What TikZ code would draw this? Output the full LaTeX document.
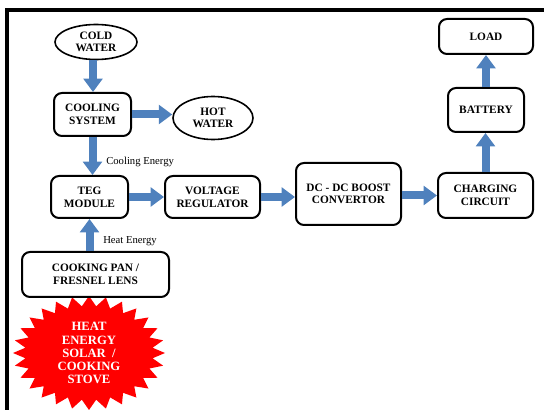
\documentclass[tikz,border=0pt]{standalone}
\usepackage{fontspec}
\setmainfont{Liberation Serif}
\usetikzlibrary{arrows.meta,shapes.geometric}

\definecolor{flowblue}{RGB}{79,129,189}

\tikzset{
  block/.style={draw, line width=1.5pt, rounded corners=6pt, align=center,
    inner sep=0pt, font=\bfseries\fontsize{8.5}{9.5}\selectfont},
  blob/.style={draw, ellipse, line width=1.2pt, align=center,
    inner sep=0pt, font=\bfseries\fontsize{8.5}{9.5}\selectfont},
  flow/.style={line width=6pt, draw=flowblue, -{Triangle[length=10pt,width=14pt]}},
  note/.style={anchor=west, inner sep=0pt, font=\fontsize{8}{9}\selectfont},
  burst/.style={align=center, text=white, inner sep=0pt,
    font=\bfseries\fontsize{9.5}{9.8}\selectfont}
}

\begin{document}
\begin{tikzpicture}[x=0.75pt, y=-0.75pt]
  \useasboundingbox (0,0) rectangle (544,410);
  % frame
  \draw[line width=2.6pt] (7,410) -- (7,10) -- (544,10);

  % heat source
  \fill[red] (165,353)
    \foreach \k in {1,...,55}{
      -- ({89+(76-12*mod(\k,2))*cos(\k*45/7)}, {353+(57-10*mod(\k,2))*sin(\k*45/7)})
    } -- cycle;
  \node[burst] (src) at (89,353) {HEAT\\ENERGY\\SOLAR~~/\\COOKING\\STOVE};

  % blocks
  \node[blob, minimum width=61.5pt, minimum height=26.25pt] (coldw) at (96,42) {COLD\\WATER};
  \node[block, minimum width=57.75pt, minimum height=32.25pt] (cool) at (92.5,114.5) {COOLING\\SYSTEM};
  \node[blob, minimum width=60pt, minimum height=32.25pt] (hotw) at (213,118) {HOT\\WATER};
  \node[block, minimum width=57.75pt, minimum height=31.5pt] (teg) at (89.5,197) {TEG\\MODULE};
  \node[block, minimum width=71.25pt, minimum height=31.5pt] (volt) at (212.5,197) {VOLTAGE\\REGULATOR};
  \node[block, minimum width=78.75pt, minimum height=46.5pt] (boost) at (348.5,194) {DC - DC BOOST\\CONVERTOR};
  \node[block, minimum width=71.25pt, minimum height=33.75pt] (charge) at (485.5,195.5) {CHARGING\\CIRCUIT};
  \node[block, minimum width=57pt, minimum height=33pt] (batt) at (486,110) {BATTERY};
  \node[block, minimum width=70.5pt, minimum height=26.25pt] (load) at (486,36.5) {LOAD};
  \node[block, minimum width=110.25pt, minimum height=33.75pt] (pan) at (95.5,274.5) {COOKING PAN /\\FRESNEL LENS};

  % flows
  \draw[flow] (coldw.south -| 93,0) -- (cool.north -| 93,0);
  \draw[flow] (cool.east) -- (cool.east -| hotw.west);
  \draw[flow] (cool.south) -- (cool.south |- teg.north);
  \draw[flow] (teg.east) -- (teg.east -| volt.west);
  \draw[flow] (volt.east) -- (volt.east -| boost.west);
  \draw[flow] (boost.east |- charge.west) -- (charge.west);
  \draw[flow] (charge.north) -- (charge.north |- batt.south);
  \draw[flow] (batt.north) -- (batt.north |- load.south);
  \draw[flow] (teg.south |- pan.north) -- (teg.south);

  \node[note] (coolnote) at (106,162) {Cooling Energy};
  \node[note] (heatnote) at (103,241) {Heat Energy};
\end{tikzpicture}
\end{document}
